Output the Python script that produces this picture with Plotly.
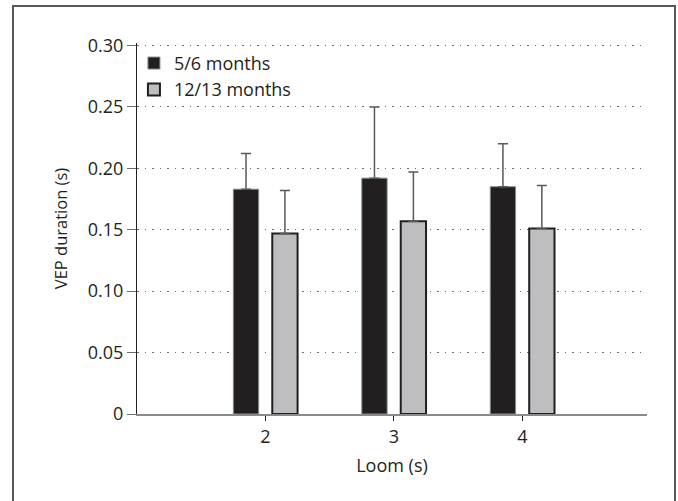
import plotly.graph_objects as go

categories = [2, 3, 4]
tick_labels = ["2", "3", "4"]
series_names = ["5/6 months", "12/13 months"]
young_mean = [0.183, 0.192, 0.185]
young_err = [0.029, 0.058, 0.035]
old_mean = [0.147, 0.157, 0.151]
old_err = [0.035, 0.040, 0.035]
y_ticks = [0, 0.05, 0.10, 0.15, 0.20, 0.25, 0.30]
y_tick_text = ["0", "0.05", "0.10", "0.15", "0.20", "0.25", "0.30"]

W, H = 678, 501
L, R, T, B = 137, 31, 43, 87
FONT = "Open Sans"
TXT = "#231f20"

fig = go.Figure()
fig.add_trace(go.Bar(
    x=categories, y=young_mean, name=series_names[0],
    width=0.197, offset=-0.25,
    marker=dict(color="#231f20", line=dict(color="#8a8a8c", width=1)),
    error_y=dict(type="data", array=young_err, symmetric=False, arrayminus=[0]*3,
                 color="#58595b", thickness=1.5, width=5),
))
fig.add_trace(go.Bar(
    x=categories, y=old_mean, name=series_names[1],
    width=0.197, offset=0.053,
    marker=dict(color="#bcbec0", line=dict(color="#231f20", width=2)),
    error_y=dict(type="data", array=old_err, symmetric=False, arrayminus=[0]*3,
                 color="#58595b", thickness=1.5, width=5),
))

pw = W - L - R
ph = H - T - B
# decorative outer frame (pixel positions converted to paper fractions)
fig.add_shape(type="rect", xref="paper", yref="paper",
              x0=(13 - L) / pw, x1=(675 - L) / pw,
              y0=(H - B - 520) / ph, y1=(H - B - 6) / ph,
              line=dict(color="#58595b", width=2), layer="below")

fig.update_layout(
    width=W, height=H,
    margin=dict(l=L, r=R, t=T, b=B),
    paper_bgcolor="white", plot_bgcolor="white",
    font=dict(family=FONT, size=18, color=TXT),
    showlegend=True,
    legend=dict(x=-0.006, y=0.995, xanchor="left", yanchor="top",
                bgcolor="rgba(255,255,255,0)", borderwidth=0,
                font=dict(size=18, color=TXT), itemclick=False),
    xaxis=dict(range=[1.0, 4.97], tickvals=categories, ticktext=tick_labels,
               showgrid=False, zeroline=False,
               showline=True, linecolor="#8a8a8c", linewidth=2,
               ticks="outside", ticklen=5, tickcolor=TXT, tickwidth=1,
               title=dict(text="Loom (s)", standoff=13, font=dict(size=18)),
               tickfont=dict(size=18)),
    yaxis=dict(range=[0, 0.302], tickvals=y_ticks, ticktext=y_tick_text,
               showgrid=True, gridcolor="#6d6e71", gridwidth=1, griddash="1.5px,6px",
               zeroline=False,
               showline=True, linecolor=TXT, linewidth=1,
               ticks="outside", ticklen=9, tickcolor="#6d6e71", tickwidth=1,
               title=dict(text="VEP duration (s)", standoff=16, font=dict(size=16.5)),
               tickfont=dict(size=18)),
)

fig.write_html("out.html")
